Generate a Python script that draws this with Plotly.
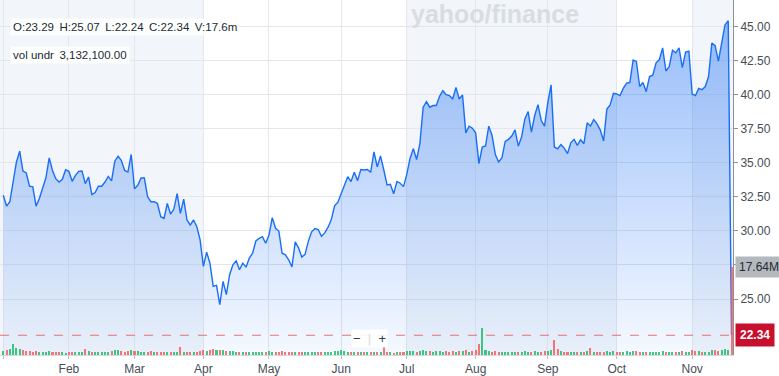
import plotly.graph_objects as go

# ---------------- data ----------------
close = [
    32.62, 31.82, 32.14, 33.59, 35.05, 35.85, 34.39, 34.25, 33.28, 33.23,
    31.82, 32.38, 33.10, 33.90, 35.36, 34.44, 33.83, 33.59, 33.79, 34.49,
    34.37, 33.64, 34.08, 34.37, 34.39, 33.47, 33.96, 32.67, 32.82, 33.28,
    33.28, 33.59, 34.00, 33.67, 35.12, 35.49, 35.17, 34.44, 34.32, 35.61,
    33.10, 33.35, 33.88, 33.88, 32.50, 32.14, 32.14, 32.01, 31.04, 30.92,
    32.01, 31.23, 31.60, 32.74, 31.28, 32.33, 30.80, 30.43, 30.80, 30.31,
    29.34, 27.39, 28.44, 27.63, 25.93, 26.00, 24.59, 26.30, 25.32, 26.78,
    27.51, 27.80, 27.15, 27.63, 27.34, 28.00, 28.36, 29.26, 29.46, 29.58,
    29.09, 29.70, 30.97, 30.19, 29.99, 28.36, 28.24, 27.88, 27.35, 29.20,
    28.76, 28.08, 28.28, 29.25, 29.93, 30.17, 30.10, 29.61, 29.85, 30.27,
    30.83, 31.84, 32.11, 32.77, 33.42, 33.98, 33.62, 34.30, 33.69, 34.51,
    34.47, 34.51, 34.30, 35.80, 34.71, 35.51, 34.47, 33.37, 33.42, 32.72,
    33.62, 33.50, 33.25, 34.15, 35.32, 36.04, 35.24, 36.41, 39.08, 39.49,
    39.08, 39.20, 39.20, 39.88, 40.29, 40.00, 39.93, 39.68, 40.54, 39.68,
    39.98, 37.20, 37.69, 37.54, 37.20, 34.94, 36.16, 36.23, 37.69, 37.01,
    35.60, 35.06, 35.35, 36.57, 36.72, 36.96, 37.42, 36.23, 36.89, 38.22,
    38.76, 37.25, 38.47, 39.27, 38.10, 37.69, 39.44, 40.71, 36.16, 36.03,
    36.33, 36.08, 35.67, 36.47, 36.72, 36.28, 36.69, 36.40, 37.93, 37.69,
    38.18, 37.86, 37.40, 36.60, 38.94, 39.25, 40.10, 40.05, 39.93, 40.46,
    40.85, 40.89, 42.54, 42.44, 40.60, 40.89, 40.22, 41.33, 41.43, 42.34,
    42.58, 43.43, 41.74, 42.05, 43.26, 43.07, 43.43, 41.98, 43.12, 43.19,
    40.05, 39.93, 40.46, 40.36, 40.60, 41.33, 43.79, 43.60, 42.46, 43.79,
    45.12, 45.43, 22.34,
]

volume_m = [
    0.8, 1.0, 1.2, 2.2, 1.3, 1.2, 1.0, 0.7, 0.8, 0.6,
    0.7, 0.6, 0.6, 0.5, 0.7, 0.6, 0.5, 0.6, 0.5, 0.4,
    0.5, 0.6, 0.5, 0.6, 0.6, 1.1, 0.7, 0.6, 0.6, 0.5,
    0.6, 0.5, 0.6, 0.7, 0.9, 0.9, 0.7, 0.6, 0.8, 0.9,
    0.8, 0.7, 0.6, 0.6, 0.6, 0.7, 0.5, 0.5, 0.6, 0.5,
    0.6, 0.5, 0.6, 0.5, 1.6, 0.6, 0.5, 0.5, 0.6, 0.5,
    0.8, 0.9, 0.8, 1.0, 1.1, 0.9, 1.0, 0.9, 0.8, 0.7,
    0.7, 0.6, 0.6, 0.5, 0.6, 0.5, 0.5, 0.6, 0.5, 0.5,
    0.6, 0.7, 0.6, 0.5, 0.5, 0.7, 0.6, 0.5, 0.6, 0.5,
    0.5, 0.6, 0.5, 0.5, 0.6, 0.5, 0.5, 0.6, 0.5, 0.6,
    0.6, 0.7, 0.8, 1.0, 0.7, 0.6, 0.5, 0.6, 0.5, 0.5,
    0.5, 0.6, 0.5, 0.6, 0.6, 0.5, 1.6, 0.6, 0.5, 0.4,
    0.5, 0.5, 0.6, 0.7, 0.8, 0.7, 0.6, 0.7, 1.0, 0.8,
    0.7, 0.6, 0.7, 0.7, 0.6, 0.7, 0.6, 0.7, 0.6, 0.7,
    0.8, 0.9, 0.6, 0.7, 1.0, 2.2, 5.4, 0.9, 0.8, 0.6,
    0.7, 0.6, 0.6, 0.5, 0.5, 0.6, 0.5, 0.6, 0.6, 0.7,
    0.6, 0.6, 0.7, 0.6, 0.6, 0.7, 0.8, 1.0, 3.0, 1.1,
    0.7, 0.6, 0.6, 0.5, 0.6, 0.6, 0.5, 0.5, 0.7, 1.3,
    0.6, 0.5, 0.5, 0.6, 0.7, 0.6, 0.7, 0.6, 0.5, 0.6,
    0.7, 0.6, 0.8, 0.7, 0.6, 0.5, 0.6, 0.5, 0.5, 0.6,
    0.6, 0.7, 0.6, 0.6, 0.6, 0.5, 0.6, 0.7, 0.6, 0.6,
    0.9, 0.8, 0.7, 0.6, 0.6, 0.6, 1.0, 0.9, 0.8, 0.9,
    1.1, 1.0, 17.64,
]

month_labels = ["", "Feb", "Mar", "Apr", "May", "Jun", "Jul", "Aug", "Sep", "Oct", "Nov"]
month_start_idx = [0, 20, 40, 61, 81, 103, 123, 144, 166, 187, 210]

price_ticks = [25.0, 27.5, 30.0, 32.5, 35.0, 37.5, 40.0, 42.5, 45.0]

last_open, last_high, last_low = 23.29, 25.07, 22.24
vol_under = 3132100.00

# ---------------- derived ----------------
n = min(len(close), len(volume_m))
close = close[:n]
volume_m = volume_m[:n]
idx = list(range(n))
last_close = close[-1]
last_vol = volume_m[-1]

GREEN = "rgba(30,190,110,0.85)"
RED = "rgba(245,95,95,0.85)"
bar_colors = [GREEN] + [GREEN if close[i] >= close[i - 1] else RED for i in range(1, n)]

W, H = 779, 376
ML, MR, MT, MB = 0, 46, 0, 19
PW, PH = W - ML - MR, H - MT - MB

X0, X1 = -1.0, n - 1 + 0.45
Y0, Y1 = 20.89, 46.95
VMAX = 70.8

# price level at which the last-volume marker sits (its label hides the tick there)
vol_marker_price = Y0 + (Y1 - Y0) * last_vol / VMAX
tick_text = ["" if abs(v - vol_marker_price) < 0.8 or abs(v - last_close) < 0.8 else f"{v:.2f}"
             for v in price_ticks]

FONT = "Liberation Sans, Arial, Helvetica, sans-serif"
TXT = "#232a31"
AX = "#464e56"
GRID = "#e3e7eb"
SHADE = "#f2f5f9"
LINE = "#1a6ef5"


def px_x(p):
    return p / PW


def px_y(p):
    return 1 - p / PH


fig = go.Figure()

fig.add_trace(go.Scatter(
    x=idx, y=close, mode="lines",
    line=dict(color=LINE, width=1.4),
    fill="tozeroy",
    fillgradient=dict(
        type="vertical",
        colorscale=[[0, "rgba(26,110,245,0.04)"], [1, "rgba(26,110,245,0.45)"]],
        start=Y0, stop=45.5,
    ),
    hoverinfo="skip",
))

fig.add_trace(go.Bar(
    x=idx, y=volume_m, marker=dict(color=bar_colors, line=dict(width=0)),
    width=0.62, yaxis="y2", hoverinfo="skip",
))

# alternating shaded backgrounds
shapes = []
shade_spans = [
    (X0, month_start_idx[3]),
    (month_start_idx[6], month_start_idx[9]),
    (month_start_idx[10], X1),
]
for a, b in shade_spans:
    shapes.append(dict(type="rect", xref="x", yref="paper", x0=a, x1=b, y0=0, y1=1,
                       fillcolor=SHADE, line=dict(width=0), layer="below"))

# last price dashed line
shapes.append(dict(type="line", xref="paper", yref="y", x0=0, x1=1, y0=last_close, y1=last_close,
                   line=dict(color="rgba(225,70,70,0.75)", width=1, dash="dash")))

annotations = []
sp = "\u00a0\u2009"
ohlc = (f"O:{last_open:.2f}{sp}H:{last_high:.2f}{sp}L:{last_low:.2f}{sp}"
        f"C:{last_close:.2f}{sp}V:{last_vol:.1f}m")
annotations.append(dict(xref="paper", yref="paper", x=px_x(10), y=px_y(27), xanchor="left",
                        yanchor="middle", text=ohlc, showarrow=False,
                        font=dict(family=FONT, size=11.5, color=TXT),
                        bgcolor="rgba(255,255,255,0.85)", borderpad=2))
annotations.append(dict(xref="paper", yref="paper", x=px_x(10), y=px_y(55), xanchor="left",
                        yanchor="middle", text=f"vol undr{sp}{vol_under:,.2f}", showarrow=False,
                        font=dict(family=FONT, size=11.5, color=TXT),
                        bgcolor="rgba(255,255,255,0.85)", borderpad=2))
annotations.append(dict(xref="paper", yref="paper", x=px_x(495), y=px_y(14), xanchor="center",
                        yanchor="middle", text="<b>yahoo/finance</b>", showarrow=False,
                        font=dict(family=FONT, size=25, color="#d9dde1")))
annotations.append(dict(xref="paper", yref="paper", x=px_x(369), y=px_y(340), xanchor="center",
                        yanchor="middle",
                        text="\u2212\u00a0\u00a0<span style='color:#d8dce0'>|</span>\u00a0\u00a0+",
                        showarrow=False, font=dict(family=FONT, size=13, color="#333a40"),
                        bgcolor="rgba(255,255,255,0.9)", borderpad=1))
annotations.append(dict(xref="paper", yref="y2", x=1 + 2 / PW, y=last_vol, xanchor="left",
                        yanchor="middle", text=f"{last_vol:.2f}M", showarrow=False,
                        font=dict(family=FONT, size=12, color=TXT),
                        bgcolor="#b4b9be", borderpad=3))
annotations.append(dict(xref="paper", yref="y", x=1 + 2 / PW, y=last_close, xanchor="left",
                        yanchor="middle", text=f"<b>{last_close:.2f}</b>", showarrow=False,
                        font=dict(family=FONT, size=12, color="white"),
                        bgcolor="#c8102e", borderpad=4))

fig.update_layout(
    width=W, height=H,
    margin=dict(l=ML, r=MR, t=MT, b=MB),
    paper_bgcolor="white", plot_bgcolor="white",
    showlegend=False, bargap=0,
    font=dict(family=FONT, size=12, color=AX),
    xaxis=dict(range=[X0, X1], tickmode="array", tickvals=month_start_idx, ticktext=month_labels,
               showgrid=True, gridcolor=GRID, gridwidth=1, zeroline=False,
               showline=True, linecolor="#d5d9dd", ticks="outside", ticklen=3, tickcolor="#b8bec4",
               tickfont=dict(family=FONT, size=12, color=AX), fixedrange=True),
    yaxis=dict(range=[Y0, Y1], side="right", tickmode="array", tickvals=price_ticks,
               ticktext=tick_text,
               showgrid=True, gridcolor=GRID, gridwidth=1, zeroline=False,
               showline=True, linecolor="#8a9198", ticks="outside", ticklen=4, tickcolor="#8a9198",
               tickfont=dict(family=FONT, size=12, color=AX), fixedrange=True),
    yaxis2=dict(range=[0, VMAX], overlaying="y", visible=False, fixedrange=True),
    shapes=shapes,
    annotations=annotations,
)

fig.write_html("out.html", config={"displayModeBar": False, "staticPlot": True},
               post_script="document.body.style.margin='0px';")
